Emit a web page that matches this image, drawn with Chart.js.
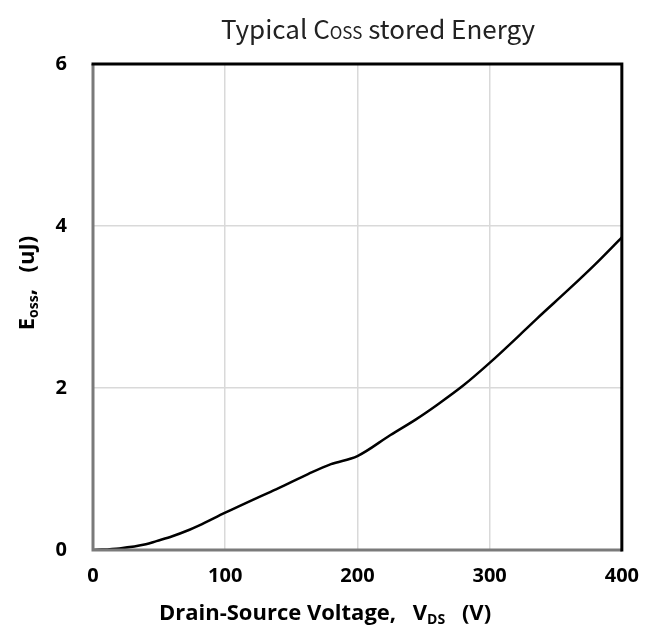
<!DOCTYPE html>
<html>
<head>
<meta charset="utf-8">
<script src="https://cdn.jsdelivr.net/npm/chart.js@4"></script>
<style>
  html, body { margin: 0; padding: 0; background: #fff; }
  #wrap { width: 653px; height: 634px; }
</style>
</head>
<body>
<div id="wrap"><canvas id="eoss_chart"></canvas></div>
<script>
// Eoss vs Vds
const vds = [0, 20, 40, 48, 60, 73, 80, 100, 125, 140, 163, 180, 200, 225, 244, 261, 280, 300, 327, 336, 360, 380, 400];
const eoss = [0, 0.02, 0.07, 0.11, 0.17, 0.25, 0.30, 0.46, 0.65, 0.76, 0.94, 1.06, 1.16, 1.42, 1.61, 1.80, 2.03, 2.31, 2.72, 2.86, 3.22, 3.53, 3.86];
const xTicks = [0, 100, 200, 300, 400];
const yTicks = [0, 2, 4, 6];

const tickFont = { family: "'Open Sans'", size: 20, weight: 'bold' };

// draws a row of text pieces (normal + subscript) on one baseline
function drawRuns(ctx, runs, cx, baseline) {
    let total = 0;
    runs.forEach(r => { ctx.font = r.font; total += ctx.measureText(r.text).width; });
    let x = cx - total / 2;
    ctx.textAlign = 'left';
    ctx.textBaseline = 'alphabetic';
    runs.forEach(r => {
        ctx.font = r.font;
        ctx.fillText(r.text, x, baseline + (r.dy || 0));
        x += ctx.measureText(r.text).width;
    });
}

const decorations = {
    id: 'decorations',
    afterDraw(chart) {
        const ctx = chart.ctx;
        const a = chart.chartArea;
        ctx.save();

        // frame: grey left/bottom, black top/right
        ctx.lineWidth = 3;
        ctx.strokeStyle = '#7a7a7a';
        ctx.beginPath();
        ctx.moveTo(a.left, a.top);
        ctx.lineTo(a.left, a.bottom);
        ctx.lineTo(a.right, a.bottom);
        ctx.stroke();
        ctx.strokeStyle = '#000';
        ctx.beginPath();
        ctx.moveTo(a.left - 1.5, a.top);
        ctx.lineTo(a.right, a.top);
        ctx.lineTo(a.right, a.bottom + 1.5);
        ctx.stroke();

        // title
        ctx.fillStyle = '#222';
        const tf = "26px 'Noto Sans CJK SC'";
        const ts = "17px 'Noto Sans CJK SC'";
        drawRuns(ctx, [
            { text: 'Typical C', font: tf },
            { text: 'OSS', font: ts },
            { text: ' stored Energy', font: tf }
        ], 378, 39);

        // x axis title
        ctx.fillStyle = '#000';
        const lf = "bold 22px 'Open Sans'";
        const ls = "bold 14px 'Open Sans'";
        drawRuns(ctx, [
            { text: 'Drain-Source Voltage,\u2002 V', font: lf },
            { text: 'DS', font: ls, dy: 4 },
            { text: '\u2002 (V)', font: lf }
        ], 325, 620);

        // y axis title, rotated
        ctx.translate(34, 283);
        ctx.rotate(-Math.PI / 2);
        drawRuns(ctx, [
            { text: 'E', font: lf },
            { text: 'oss', font: ls, dy: 4 },
            { text: ',\u2002 (uJ)', font: lf }
        ], 0, 0);
        ctx.restore();
    }
};

const ctx = document.getElementById('eoss_chart');
new Chart(ctx, {
    type: 'line',
    data: {
        datasets: [{
            data: vds.map((v, i) => ({ x: v, y: eoss[i] })),
            borderColor: '#000',
            borderWidth: 2.5,
            pointRadius: 0,
            cubicInterpolationMode: 'monotone',
            fill: false
        }]
    },
    options: {
        responsive: true,
        maintainAspectRatio: false,
        animation: false,
        layout: { padding: { top: 64, right: 28, left: 0, bottom: 0 } },
        plugins: {
            legend: { display: false },
            title: { display: false },
            tooltip: { enabled: false }
        },
        scales: {
            x: {
                type: 'linear',
                min: 0,
                max: 400,
                afterBuildTicks: s => { s.ticks = xTicks.map(v => ({ value: v })); },
                afterFit: s => { s.height = 84; },
                grid: { color: '#d9d9d9', lineWidth: 1.5, drawTicks: false },
                border: { display: false },
                ticks: { color: '#000', font: tickFont, padding: 14, maxRotation: 0 }
            },
            y: {
                min: 0,
                max: 6,
                afterBuildTicks: s => { s.ticks = yTicks.map(v => ({ value: v })); },
                afterFit: s => { s.width = 93; },
                grid: { color: '#d9d9d9', lineWidth: 1.5, drawTicks: false },
                border: { display: false },
                ticks: { color: '#000', font: tickFont, padding: 26 }
            }
        }
    },
    plugins: [decorations]
});
</script>
</body>
</html>
